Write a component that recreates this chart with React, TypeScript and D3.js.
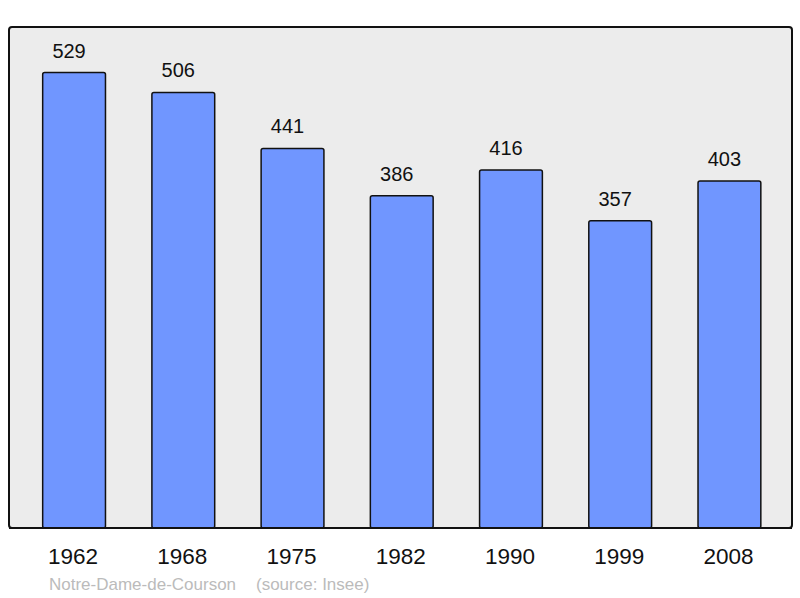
import { useEffect, useRef } from "react";
import * as d3 from "d3";

const years = ["1962", "1968", "1975", "1982", "1990", "1999", "2008"];
const population = [529, 506, 441, 386, 416, 357, 403];
const place = "Notre-Dame-de-Courson";
const source = "(source: Insee)";

export default function App() {
  const ref = useRef<SVGSVGElement>(null);

  useEffect(() => {
    if (!ref.current) return;
    const w = 800,
      h = 598,
      frame = { left: 9, top: 27, right: 792, bottom: 528 };
    const font = "'Liberation Sans', Arial, sans-serif";

    const svg = d3.select(ref.current);
    svg.selectAll("*").remove();
    svg.attr("width", w).attr("height", h).attr("viewBox", `0 0 ${w} ${h}`);

    svg
      .append("rect")
      .attr("x", frame.left)
      .attr("y", frame.top)
      .attr("width", frame.right - frame.left)
      .attr("height", frame.bottom - frame.top)
      .attr("rx", 3)
      .attr("fill", "#ececec")
      .attr("stroke", "#111")
      .attr("stroke-width", 2);

    const x = d3
      .scaleBand()
      .domain(years)
      .range([frame.left + 2, frame.right + 0.5])
      .paddingInner(0.425)
      .paddingOuter(0.29);
    const y = d3.scaleLinear().domain([0, 582]).range([frame.bottom, frame.top]);

    const data = years.map((yr, i) => ({ yr, v: population[i] }));

    svg
      .selectAll("rect.bar")
      .data(data)
      .join("rect")
      .attr("class", "bar")
      .attr("x", (d) => x(d.yr)!)
      .attr("width", x.bandwidth())
      .attr("y", (d) => y(d.v))
      .attr("height", (d) => y(0) - y(d.v))
      .attr("rx", 2)
      .attr("fill", "#7096ff")
      .attr("stroke", "#111")
      .attr("stroke-width", 1.5);

    // bottom edge of the frame drawn over the bars
    svg
      .append("line")
      .attr("x1", frame.left)
      .attr("x2", frame.right)
      .attr("y1", frame.bottom)
      .attr("y2", frame.bottom)
      .attr("stroke", "#111")
      .attr("stroke-width", 2);

    svg
      .selectAll("text.val")
      .data(data)
      .join("text")
      .attr("class", "val")
      .attr("x", (d) => x(d.yr)! + x.bandwidth() / 2 - 5)
      .attr("y", (d) => y(d.v) - 15)
      .attr("text-anchor", "middle")
      .attr("font-family", font)
      .attr("font-size", 20)
      .attr("fill", "#111")
      .text((d) => d.v);

    svg
      .selectAll("text.yr")
      .data(data)
      .join("text")
      .attr("class", "yr")
      .attr("x", (d) => x(d.yr)! + x.bandwidth() / 2 - 1)
      .attr("y", 564)
      .attr("text-anchor", "middle")
      .attr("font-family", font)
      .attr("font-size", 22.5)
      .attr("fill", "#111")
      .text((d) => d.yr);

    svg
      .append("text")
      .attr("x", 49)
      .attr("y", 590)
      .attr("font-family", font)
      .attr("font-size", 17)
      .attr("fill", "#bbb")
      .text(place);

    svg
      .append("text")
      .attr("x", 256)
      .attr("y", 590)
      .attr("font-family", font)
      .attr("font-size", 17)
      .attr("fill", "#bbb")
      .text(source);
  }, []);

  return (
    <svg
      ref={ref}
      style={{ position: "absolute", left: 0, top: 0, display: "block" }}
    />
  );
}
